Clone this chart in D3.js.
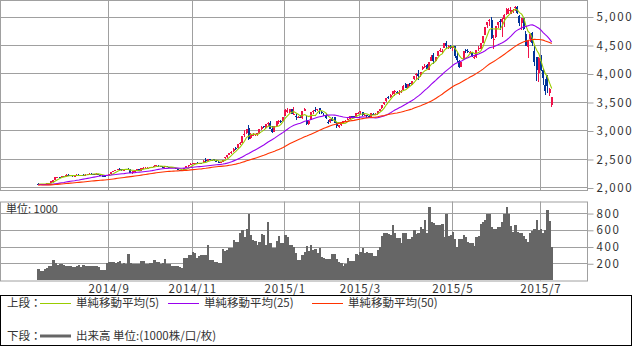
<!DOCTYPE html>
<html><head><meta charset="utf-8">
<script src="https://cdn.jsdelivr.net/npm/d3@7"></script>
<style>
body{margin:0;background:#fff}
svg{display:block}
text{font-family:"Noto Sans CJK JP","Noto Sans",sans-serif;fill:#333}
</style>
</head><body>
<svg id="chart" width="640" height="350"></svg>
<script>
// ---- data ----
const tradingMonths = [
  ["2014-07",[16,17,18,21,22,23,24,25,28,29,30,31]],
  ["2014-08",[1,4,5,6,7,8,11,12,13,14,15,18,19,20,21,22,25,26,27,28,29]],
  ["2014-09",[1,2,3,4,5,9,10,11,12,15,16,17,18,19,22,23,24,25,26,29,30]],
  ["2014-10",[8,9,10,13,14,15,16,17,20,21,22,23,24,27,28,29,30,31]],
  ["2014-11",[3,4,5,6,7,10,11,12,13,14,17,18,19,20,21,24,25,26,27,28]],
  ["2014-12",[1,2,3,4,5,8,9,10,11,12,15,16,17,18,19,22,23,24,25,26,29,30,31]],
  ["2015-01",[5,6,7,8,9,12,13,14,15,16,19,20,21,22,23,26,27,28,29,30]],
  ["2015-02",[2,3,4,5,6,9,10,11,12,13,16,17,25,26,27]],
  ["2015-03",[2,3,4,5,6,9,10,11,12,13,16,17,18,19,20,23,24,25,26,27,30,31]],
  ["2015-04",[1,2,3,7,8,9,10,13,14,15,16,17,20,21,22,23,24,27,28,29,30]],
  ["2015-05",[4,5,6,7,8,11,12,13,14,15,18,19,20,21,22,25,26,27,28,29]],
  ["2015-06",[1,2,3,4,5,8,9,10,11,12,15,16,17,18,19,23,24,25,26,29,30]],
  ["2015-07",[1,2,3,6,7,8]]
];
const opens = [
2070,2063,2052,2057,2060,2074,2077,2105,2135,2180,2185,2180,
2199,2185,2226,2219,2216,2192,2195,2224,2217,2223,2203,2229,2240,2243,2238,2235,2241,2227,2207,2199,2195,
2217,2235,2268,2286,2307,2332,2316,2305,2315,2333,2314,2253,2294,2296,2328,2288,2341,2345,2345,2349,2359,
2370,2384,2385,2370,2367,2354,2371,2355,2340,2357,2341,2326,2303,2301,2290,2338,2372,2395,
2420,2429,2433,2418,2424,2430,2478,2468,2495,2483,2502,2473,2455,2448,2452,2510,2532,2567,2606,2633,
2688,2685,2760,2785,2920,2950,3047,2860,2925,2922,2938,2950,3024,3080,3055,3111,3136,3035,2970,3075,3165,3168,3169,
3258,3330,3327,3371,3277,3258,3224,3242,3224,3343,3189,3114,3189,3327,3357,3355,3389,3325,3270,3273,
3148,3144,3212,3243,3120,3057,3090,3140,3155,3186,3206,3249,3256,3222,3300,
3332,3317,3264,3264,3250,3224,3292,3289,3283,3350,3391,3466,3510,3587,3579,3643,3691,3683,3647,3683,3710,3823,
3748,3827,3803,3899,3978,3996,3968,4072,4125,4143,4070,4221,4316,4212,4304,4406,4393,4441,4528,4442,4483,
4441,4479,4311,4215,4121,4257,4407,4400,4373,4371,4284,4286,4434,4435,4539,4680,4855,4930,4943,4603,
4633,4844,4924,4912,4959,5045,5113,5049,5101,5144,5175,5004,4890,4966,4690,4471,4605,4711,4399,4289,4006,
4214,4058,3793,3975,3654,3450];
const highs = [
2074,2066,2062,2064,2078,2082,2110,2130,2180,2190,2191,2204,
2205,2228,2234,2225,2219,2199,2228,2232,2226,2229,2228,2245,2249,2246,2243,2246,2245,2234,2211,2205,2218,
2236,2267,2292,2307,2327,2335,2319,2318,2332,2337,2316,2296,2301,2330,2330,2344,2355,2357,2352,2360,2367,
2386,2391,2390,2378,2377,2376,2378,2360,2358,2362,2348,2331,2310,2305,2337,2375,2395,2422,
2438,2436,2440,2428,2432,2477,2509,2496,2502,2490,2508,2478,2460,2455,2489,2535,2569,2605,2634,2690,
2705,2763,2795,2900,3003,3020,3091,2948,2960,2942,2956,3023,3080,3085,3108,3151,3158,3075,3075,3158,3191,3190,3240,
3370,3394,3374,3381,3404,3282,3260,3268,3337,3400,3262,3190,3327,3352,3406,3384,3391,3343,3300,3288,
3176,3207,3239,3243,3142,3100,3142,3161,3180,3237,3248,3253,3257,3301,3324,
3337,3317,3286,3266,3268,3305,3303,3302,3350,3375,3449,3503,3578,3600,3632,3688,3715,3697,3708,3710,3795,3835,
3817,3835,3866,3961,4000,4069,4035,4128,4168,4175,4195,4318,4356,4294,4398,4444,4436,4528,4573,4499,4507,
4488,4489,4378,4232,4208,4402,4428,4425,4392,4373,4312,4418,4482,4530,4658,4814,4911,4958,4986,4668,
4829,4911,4955,4967,5051,5147,5147,5164,5139,5178,5176,5030,4968,4967,4744,4577,4691,4720,4480,4297,4287,
4318,4081,3909,3980,3744,3590];
const lows = [
2058,2050,2048,2052,2056,2068,2075,2100,2133,2168,2175,2176,
2180,2183,2214,2209,2190,2184,2193,2214,2206,2203,2202,2223,2236,2230,2227,2229,2224,2203,2195,2187,2193,
2210,2233,2264,2281,2300,2311,2297,2300,2311,2310,2251,2245,2283,2293,2288,2285,2334,2338,2340,2343,2355,
2365,2378,2370,2358,2350,2350,2352,2337,2336,2338,2325,2300,2296,2284,2288,2336,2365,2393,
2412,2420,2414,2410,2414,2428,2451,2460,2478,2470,2470,2454,2443,2440,2450,2505,2525,2562,2595,2630,
2660,2680,2740,2780,2890,2945,2834,2851,2900,2899,2905,2930,3015,3036,3032,3087,3020,2958,2966,3075,3120,3138,3165,
3254,3303,3312,3285,3267,3191,3215,3214,3208,3340,3095,3100,3181,3295,3327,3334,3298,3295,3246,3209,
3120,3140,3170,3136,3050,3050,3080,3135,3147,3180,3201,3227,3215,3216,3290,
3298,3260,3250,3226,3220,3224,3277,3280,3275,3338,3385,3455,3494,3561,3565,3625,3600,3632,3625,3655,3710,3742,
3742,3783,3792,3888,3893,3878,3945,4070,4094,4079,4060,4212,4165,4212,4303,4373,4357,4441,4432,4426,4437,
4393,4280,4197,4100,4109,4246,4356,4363,4346,4293,4259,4271,4400,4434,4536,4680,4800,4832,4614,4431,
4616,4798,4766,4647,4824,5018,5039,5049,5067,5103,5048,4842,4767,4759,4476,4264,4552,4483,4140,3875,3847,
4043,3796,3629,3653,3598,3410];
const closes = [
2065,2055,2059,2059,2075,2076,2108,2127,2178,2183,2182,2201,
2185,2224,2222,2218,2194,2194,2225,2219,2224,2206,2226,2240,2245,2240,2236,2241,2229,2207,2200,2195,2217,
2235,2267,2288,2306,2327,2319,2307,2315,2331,2315,2256,2294,2296,2329,2290,2343,2345,2346,2348,2358,2364,
2383,2389,2374,2366,2354,2374,2357,2341,2357,2340,2327,2302,2302,2290,2337,2373,2392,2420,
2430,2431,2419,2425,2418,2473,2470,2495,2486,2478,2474,2456,2451,2452,2487,2533,2568,2605,2630,2683,
2680,2763,2779,2899,2938,3020,2856,2940,2926,2938,2953,3022,3062,3058,3108,3128,3033,2968,3073,3158,3169,3166,3235,
3351,3352,3374,3294,3285,3230,3236,3223,3337,3376,3116,3173,3324,3343,3351,3383,3353,3306,3263,3211,
3129,3205,3175,3137,3076,3096,3142,3158,3173,3204,3247,3247,3229,3299,3311,
3337,3264,3280,3248,3241,3302,3286,3291,3350,3373,3449,3503,3578,3582,3617,3688,3691,3661,3683,3692,3787,3748,
3811,3826,3864,3961,3995,3958,4035,4122,4135,4085,4195,4287,4218,4294,4398,4415,4394,4527,4476,4476,4442,
4481,4299,4230,4112,4206,4401,4402,4376,4379,4309,4284,4418,4447,4530,4658,4814,4911,4942,4621,4612,
4829,4911,4910,4948,5023,5132,5114,5106,5121,5166,5062,4887,4968,4786,4478,4577,4691,4527,4193,4053,4277,
4054,3913,3687,3776,3728,3580];
// closes of the 49 sessions before the first shown day (for the moving averages)
const preCloses = [2010,2015,2011,2053,2051,2047,2025,2026,2005,2008,2025,2021,2035,2042,2034,2050,2041,2039,2034,2024,
2034,2030,2030,2053,2054,2055,2071,2087,2067,2055,2024,2026,2034,2039,2025,2037,2036,2048,2050,2063,2064,2060,2059,2066,
2039,2038,2047,2066,2067];
const volumes = [
127,112,110,127,138,165,170,238,205,180,190,188,
175,170,172,168,158,160,170,178,160,175,172,170,168,165,165,168,150,120,118,122,205,
210,214,210,205,220,226,195,200,195,310,198,195,192,190,188,226,224,195,190,200,205,
238,220,210,195,205,246,195,192,167,170,168,165,158,140,258,260,298,300,
329,317,260,290,298,300,300,417,240,238,220,210,205,200,365,350,360,377,380,476,
460,450,563,595,516,615,786,536,476,470,417,456,548,540,420,694,440,377,380,468,524,437,440,
536,508,420,420,400,325,238,240,298,337,405,349,417,357,365,325,377,270,258,246,
246,246,310,305,246,218,198,170,190,258,226,226,230,310,298,
337,377,317,329,317,317,286,290,357,397,524,556,556,544,536,655,556,496,496,437,563,560,
484,484,508,595,544,560,635,615,714,556,873,690,683,663,663,655,667,516,786,524,536,
575,484,397,484,484,536,516,456,444,440,405,516,524,667,694,714,794,794,635,615,
615,635,635,694,794,873,794,643,575,655,575,556,556,524,484,456,556,587,615,714,603,
615,556,600,841,706,397];
const priceTicks = [2000,2500,3000,3500,4000,4500,5000];
const volumeTicks = [200,400,600,800];
const maPeriods = [5,25,50];
const maNames = ["単純移動平均(5)","単純移動平均(25)","単純移動平均(50)"];

// ---- derived ----
const dates = [];
tradingMonths.forEach(([ym, days]) => days.forEach(d => dates.push(ym + "-" + String(d).padStart(2,"0"))));
const N = dates.length;
const data = dates.map((d,i)=>({i, date:d, o:opens[i], h:highs[i], l:lows[i], c:closes[i], v:volumes[i]}));
const allCloses = preCloses.concat(closes);
const P = preCloses.length;
const maSeries = maPeriods.map(p => data.map((d,i) => {
  const end = P + i + 1, start = Math.max(0, end - p);
  return {i, v: d3.mean(allCloses.slice(start, end))};
}));
// month tick: first session of Sep, Nov, Jan, Mar, May, Jul
const monthTicks = [];
dates.forEach((d,i) => {
  const [y,m] = d.split("-").map(Number);
  if (i>0 && dates[i-1].slice(0,7) !== d.slice(0,7) && m % 2 === 1) monthTicks.push({i, label: y + "/" + m});
});

// ---- layout ----
const plotL = 0, plotR = 587;
const padSlotsL = 17.26, padSlotsR = 15.9;
const x = d3.scaleLinear().domain([-padSlotsL, N + padSlotsR]).range([plotL, plotR]);
const step = x(1) - x(0);
const priceTop = 0, priceBot = 190;
const y = d3.scaleLinear().domain([1956, 5289.5]).range([priceBot, priceTop]);
const volTop = 202, volBot = 280;
const vy = d3.scaleLinear().domain([0, 932]).range([volBot, volTop]);

const colors = {grid:"#a0a0a0", up:"#f0124a", down:"#003399", vol:"#666666",
  ma:["#99cc00","#9900ee","#ff3300"]};

const svg = d3.select("#chart");
const crisp = v => Math.round(v) + 0.5;

function panel(top, bot, yScale, ticks){
  const g = svg.append("g");
  g.selectAll("line.h").data(ticks).join("line")
    .attr("x1", plotL).attr("x2", plotR)
    .attr("y1", d=>crisp(yScale(d))).attr("y2", d=>crisp(yScale(d)))
    .attr("stroke", colors.grid);
  g.selectAll("line.v").data(monthTicks).join("line")
    .attr("x1", d=>crisp(x(d.i))).attr("x2", d=>crisp(x(d.i)))
    .attr("y1", top).attr("y2", bot)
    .attr("stroke", colors.grid);
  g.append("rect").attr("x", plotL+0.5).attr("y", top+0.5)
    .attr("width", plotR-plotL).attr("height", bot-top)
    .attr("fill","none").attr("stroke", colors.grid);
  return g;
}
panel(priceTop, priceBot, y, priceTicks);
panel(volTop-0.5, volBot+0.5, vy, volumeTicks);

// axes on the right
const yAxis = d3.axisRight(y).tickValues(priceTicks).tickFormat(d3.format(",")).tickSize(6).tickPadding(3);
const ga = svg.append("g").attr("transform", `translate(${plotR+0.5},0.5)`).call(yAxis);
const vAxis = d3.axisRight(vy).tickValues(volumeTicks).tickSize(6).tickPadding(3);
const gv = svg.append("g").attr("transform", `translate(${plotR+0.5},0.5)`).call(vAxis);
[ga,gv].forEach(g=>{
  g.select(".domain").remove();
  g.selectAll(".tick line").attr("stroke", colors.grid);
  g.selectAll(".tick text").attr("font-size", 11.5).attr("fill","#333")
    .attr("font-family","'Noto Sans CJK JP',sans-serif").style("letter-spacing","1.6px");
});

// candles
const cg = svg.append("g").attr("shape-rendering","crispEdges");
cg.selectAll("line").data(data).join("line")
  .attr("x1", d=>Math.floor(x(d.i)+step/2)+0.5).attr("x2", d=>Math.floor(x(d.i)+step/2)+0.5)
  .attr("y1", d=>y(d.h)).attr("y2", d=>y(d.l))
  .attr("stroke", d=> d.c>=d.o ? colors.up : colors.down);
cg.selectAll("rect").data(data).join("rect")
  .attr("x", d=>Math.round(x(d.i)))
  .attr("width", 2)
  .attr("y", d=>y(Math.max(d.o,d.c)))
  .attr("height", d=>Math.max(1, Math.abs(y(d.o)-y(d.c))))
  .attr("fill", d=> d.c>=d.o ? colors.up : colors.down);

// moving averages
maSeries.forEach((s,j)=>{
  svg.append("path").datum(s)
    .attr("d", d3.line().x(d=>x(d.i)+step/2).y(d=>y(d.v)))
    .attr("fill","none").attr("stroke", colors.ma[j]).attr("stroke-width",1.1);
});

// volume
svg.append("g").attr("shape-rendering","crispEdges")
  .selectAll("rect").data(data).join("rect")
  .attr("x", d=>x(d.i)).attr("width", step+0.3)
  .attr("y", d=>vy(d.v)).attr("height", d=>vy(0)-vy(d.v))
  .attr("fill", colors.vol);

svg.append("text").attr("x",6).attr("y",213).attr("font-size",11).text("単位: 1000");

// month labels
svg.selectAll("text.m").data(monthTicks).join("text")
  .attr("x", d=>x(d.i)+1).attr("y", 292.5).attr("text-anchor","middle")
  .attr("font-size",11.5).style("letter-spacing","0.8px").text(d=>d.label);

// legend
svg.append("rect").attr("x",0.5).attr("y",295.5).attr("width",631).attr("height",50)
  .attr("fill","none").attr("stroke","#000");
const lg = svg.append("g").attr("font-size",11.5);
lg.append("text").attr("x",7).attr("y",307).text("上段：");
const legX = [40,168,312];
maNames.forEach((n,j)=>{
  lg.append("line").attr("x1",legX[j]).attr("x2",legX[j]+31).attr("y1",303.5).attr("y2",303.5)
    .attr("stroke",colors.ma[j]);
  lg.append("text").attr("x",legX[j]+36).attr("y",307).text(n);
});
lg.append("text").attr("x",7).attr("y",340).text("下段：");
lg.append("line").attr("x1",40).attr("x2",71).attr("y1",336).attr("y2",336)
  .attr("stroke",colors.vol).attr("stroke-width",3);
lg.append("text").attr("x",76).attr("y",340).text("出来高 単位:(1000株/口/枚)");
</script>
</body></html>
